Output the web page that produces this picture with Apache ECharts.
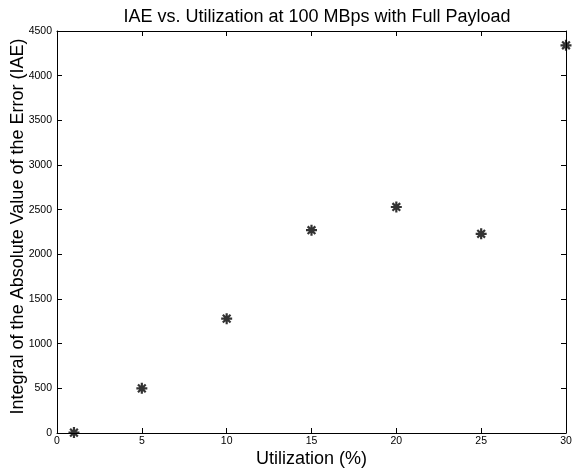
<!DOCTYPE html>
<html><head><meta charset="utf-8">
<script src="https://cdn.jsdelivr.net/npm/echarts@6/dist/echarts.min.js"></script>
<style>html,body{margin:0;padding:0;background:#fff}#c{width:573px;height:471px}</style>
</head><body><div id="c"></div>
<script>
const utilization = [1, 5, 10, 15, 20, 25, 30];
const iae = [5, 500, 1280, 2270, 2530, 2230, 4340];
const xTicks = [0, 5, 10, 15, 20, 25, 30];
const yTicks = [0, 500, 1000, 1500, 2000, 2500, 3000, 3500, 4000, 4500];

const font = 'Liberation Sans, Arial, sans-serif';
const star = 'path://M0 -10 L0 10 M-10 0 L10 0 M-7 -7 L7 7 M-7 7 L7 -7';
const chart = echarts.init(document.getElementById('c'));
const axisLine = {show: true, onZero: false, lineStyle: {color: '#000', width: 1}};
const tick = {show: true, inside: true, length: 5, lineStyle: {color: '#000'}};
const fmt = v => String(v);
chart.setOption({
  animation: false,
  backgroundColor: '#fff',
  title: {text: 'IAE vs. Utilization at 100 MBps with Full Payload', left: 312, textAlign: 'center', top: 3,
    textStyle: {fontFamily: font, fontSize: 18, fontWeight: 'normal', color: '#000'}},
  grid: {left: 57, right: 7, top: 31, bottom: 38, outerBoundsMode: 'none', containLabel: false},
  xAxis: [{type: 'value', min: 0, max: 30, interval: 5, name: 'Utilization (%)', nameLocation: 'middle', nameGap: 17,
    nameMoveOverlap: false,
    nameTextStyle: {fontFamily: font, fontSize: 18, color: '#000'},
    axisLine, axisTick: tick, splitLine: {show: false},
    axisLabel: {fontFamily: font, fontSize: 10.5, color: '#000', margin: 3, formatter: fmt}},
    {type: 'value', position: 'top', min: 0, max: 30, interval: 5, axisLine, axisTick: tick,
    splitLine: {show: false}, axisLabel: {show: false}}],
  yAxis: [{type: 'value', min: 0, max: 4500, interval: 500, name: 'Integral of the Absolute Value of the Error (IAE)',
    nameLocation: 'middle', nameGap: 30, nameMoveOverlap: false,
    nameTextStyle: {fontFamily: font, fontSize: 18, color: '#000', padding: [0, 0, 0, 11]},
    axisLine, axisTick: tick, splitLine: {show: false},
    axisLabel: {fontFamily: font, fontSize: 10.5, color: '#000', margin: 5, formatter: fmt}},
    {type: 'value', position: 'right', min: 0, max: 4500, interval: 500, axisLine, axisTick: tick,
    splitLine: {show: false}, axisLabel: {show: false}}],
  series: [{type: 'scatter', data: utilization.map((u, i) => [u, iae[i]]), symbol: star, symbolSize: 11,
    itemStyle: {color: 'none', borderColor: '#000', borderWidth: 2.2}}]
});
</script></body></html>
